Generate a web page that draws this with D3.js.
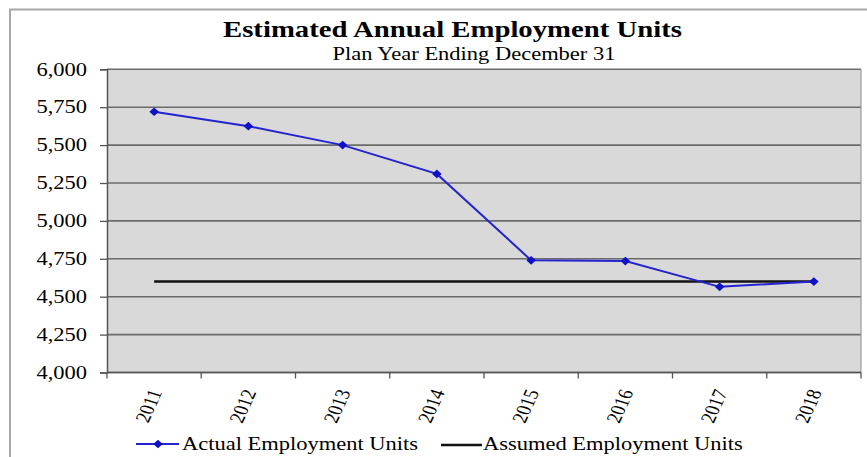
<!DOCTYPE html>
<html>
<head>
<meta charset="utf-8">
<script src="https://cdn.jsdelivr.net/npm/d3@7"></script>
<style>
  body { margin: 0; background: #fff; }
  svg { display: block; }
  text { font-family: "Liberation Serif", "Times New Roman", serif; fill: #000; }
</style>
</head>
<body>
<svg id="chart" width="867" height="457"></svg>
<script>
// ---- data ----
const years = ["2011", "2012", "2013", "2014", "2015", "2016", "2017", "2018"];
const actualUnits = [5720, 5625, 5500, 5310, 4740, 4735, 4565, 4600];
const assumedUnits = [4600, 4600, 4600, 4600, 4600, 4600, 4600, 4600];
const yTicks = [4000, 4250, 4500, 4750, 5000, 5250, 5500, 5750, 6000];
const seriesNames = ["Actual Employment Units", "Assumed Employment Units"];
const titleText = "Estimated Annual Employment Units";
const subtitleText = "Plan Year Ending December 31";

// ---- layout ----
const plot = { left: 107, right: 861, top: 69.3, bottom: 372.5 };
const SX = 1.25;               // horizontal text stretch
const blue = "#2323cf";
const gridColor = "#6b6b6b";

const svg = d3.select("#chart");

// outer chart frame
svg.append("rect")
  .attr("x", 10).attr("y", 9.5).attr("width", 900).attr("height", 500)
  .attr("fill", "#fff").attr("stroke", "#a8a8a8").attr("stroke-width", 2);

const x = d3.scaleBand().domain(years).range([plot.left, plot.right]);
const cx = d => x(d) + x.bandwidth() / 2;
const y = d3.scaleLinear().domain([4000, 6000]).range([plot.bottom, plot.top]);

// plot area background
svg.append("rect")
  .attr("x", plot.left).attr("y", plot.top)
  .attr("width", plot.right - plot.left).attr("height", plot.bottom - plot.top)
  .attr("fill", "#d9d9d9");

// horizontal gridlines
svg.append("g").selectAll("line").data(yTicks).join("line")
  .attr("x1", plot.left).attr("x2", plot.right)
  .attr("y1", d => y(d)).attr("y2", d => y(d))
  .attr("stroke", gridColor).attr("stroke-width", 1.6);

// right edge of plot area
svg.append("line")
  .attr("x1", plot.right).attr("x2", plot.right)
  .attr("y1", plot.top).attr("y2", plot.bottom)
  .attr("stroke", "#9a9a9a").attr("stroke-width", 1.2);

// y axis
const gy = svg.append("g")
  .attr("transform", `translate(${plot.left},0)`)
  .call(d3.axisLeft(y).tickValues(yTicks).tickSize(7).tickFormat(d3.format(",")));
gy.select(".domain").attr("stroke", "#555").attr("stroke-width", 1.5);
gy.selectAll(".tick line").attr("stroke", "#555").attr("stroke-width", 1.3);
gy.selectAll(".tick text")
  .attr("font-family", "Liberation Serif, Times New Roman, serif")
  .attr("font-size", 18)
  .attr("fill", "#111")
  .attr("x", -20 / SX)
  .attr("transform", `scale(${SX},1)`);

// x axis: baseline, tick marks at category boundaries, rotated labels
const gx = svg.append("g");
gx.append("line")
  .attr("x1", plot.left).attr("x2", plot.right)
  .attr("y1", plot.bottom).attr("y2", plot.bottom)
  .attr("stroke", "#555").attr("stroke-width", 1.5);
const edges = years.map(d => x(d)).concat([x.range()[1]]);
gx.selectAll("line.tk").data(edges).join("line").attr("class", "tk")
  .attr("x1", d => d).attr("x2", d => d)
  .attr("y1", plot.bottom).attr("y2", plot.bottom + 6)
  .attr("stroke", "#555").attr("stroke-width", 1.3);
gx.selectAll("text").data(years).join("text")
  .attr("transform", d => `translate(${cx(d) + 1.3},390) scale(${SX},1) rotate(-70)`)
  .attr("text-anchor", "end")
  .attr("dy", "0.35em")
  .attr("font-size", 17)
  .attr("fill", "#111")
  .text(d => d);

// assumed units line
const line = d3.line().x((d, i) => cx(years[i])).y(d => y(d));
svg.append("path").datum(assumedUnits)
  .attr("d", line).attr("fill", "none")
  .attr("stroke", "#111").attr("stroke-width", 2.5);

// actual units line with diamond markers
svg.append("path").datum(actualUnits)
  .attr("d", line).attr("fill", "none")
  .attr("stroke", blue).attr("stroke-width", 2);
const diamond = d3.symbol().type(d3.symbolDiamond2 || d3.symbolDiamond).size(48);
svg.append("g").selectAll("path").data(actualUnits).join("path")
  .attr("transform", (d, i) => `translate(${cx(years[i])},${y(d)}) scale(1.1,1)`)
  .attr("d", diamond)
  .attr("fill", "#1010c8");

// title and subtitle
svg.append("text")
  .attr("transform", `translate(452.5,36.7) scale(${SX},1)`)
  .attr("text-anchor", "middle")
  .attr("font-size", 23).attr("font-weight", "bold")
  .text(titleText);
svg.append("text")
  .attr("transform", `translate(474,60) scale(${SX},1)`)
  .attr("text-anchor", "middle")
  .attr("font-size", 18)
  .attr("fill", "#111")
  .text(subtitleText);

// legend
const legend = svg.append("g");
legend.append("line")
  .attr("x1", 136).attr("x2", 179).attr("y1", 444).attr("y2", 444)
  .attr("stroke", blue).attr("stroke-width", 2);
legend.append("path")
  .attr("transform", "translate(158,444) scale(1.1,1)")
  .attr("d", diamond).attr("fill", "#1010c8");
legend.append("text")
  .attr("transform", `translate(182,450) scale(${SX},1)`)
  .attr("font-size", 18).attr("fill", "#111")
  .text(seriesNames[0]);
legend.append("line")
  .attr("x1", 441).attr("x2", 482).attr("y1", 445).attr("y2", 445)
  .attr("stroke", "#111").attr("stroke-width", 2.5);
legend.append("text")
  .attr("transform", `translate(483,450) scale(${SX},1)`)
  .attr("font-size", 18).attr("fill", "#111")
  .text(seriesNames[1]);
</script>
</body>
</html>
